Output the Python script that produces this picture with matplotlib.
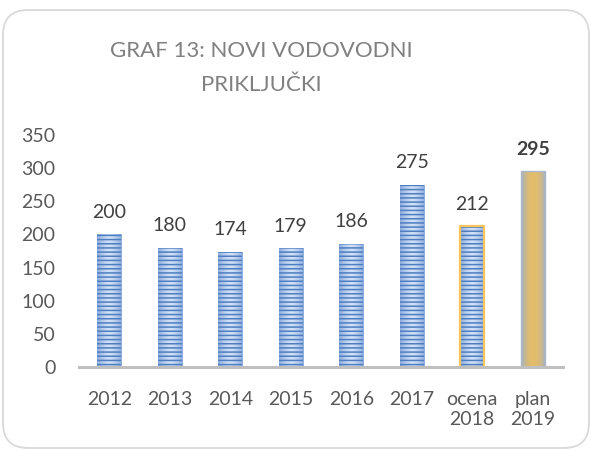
import numpy as np
import matplotlib
matplotlib.use("Agg")
import matplotlib.pyplot as plt
from matplotlib.patches import FancyBboxPatch

categories = ["2012", "2013", "2014", "2015", "2016", "2017", "ocena\n2018", "plan\n2019"]
values = [200, 180, 174, 179, 186, 275, 212, 295]
y_ticks = [0, 50, 100, 150, 200, 250, 300, 350]
title = "GRAF 13: NOVI VODOVODNI\nPRIKLJUČKI"

plt.rcParams['font.family'] = ['Lato', 'DejaVu Sans']
plt.rcParams['hatch.linewidth'] = 1.1

fig = plt.figure(figsize=(5.91, 4.5), dpi=100)
fig.patch.set_facecolor('white')

# rounded border
box = FancyBboxPatch((0.03, 0.02), 5.86, 4.38,
                     boxstyle="round,pad=0,rounding_size=0.25",
                     transform=fig.dpi_scale_trans, facecolor='none',
                     edgecolor='#d9d9d9', linewidth=1.3, zorder=-1)
fig.patches.append(box)

ax = fig.add_axes([0.1337, 0.1844, 0.8189, 0.5156])
ax.set_facecolor('none')
x = np.arange(len(categories))
bw = 0.4

bars = ax.bar(x, values, width=bw, facecolor='none', edgecolor='none', zorder=2)

# horizontal colour gradients for the bar fills (edge -> centre -> edge)
t = np.abs(np.linspace(-1, 1, 41))[:, None]
blue_edge, blue_mid = np.array([0.55, 0.68, 0.87]), np.array([0.82, 0.88, 0.97])
gold_edge, gold_mid = np.array([0.63, 0.69, 0.77]), np.array([0.89, 0.74, 0.42])
blue_grad = blue_mid + (blue_edge - blue_mid) * t ** 1.5
gold_grad = gold_mid + (gold_edge - gold_mid) * t ** 2.2

n = len(values)
for i, b in enumerate(bars):
    bx, by, w, h = b.get_x(), b.get_y(), b.get_width(), b.get_height()
    grad = blue_grad if i < n - 1 else gold_grad
    img = ax.imshow(grad[np.newaxis, :, :], extent=(bx, bx + w, by, by + h),
                    aspect='auto', interpolation='bilinear', zorder=2)
    img.set_clip_path(b)
    if i < n - 1:
        ax.bar(x[i], values[i], width=bw, facecolor='none', edgecolor='#4f7fc0',
               hatch='----', linewidth=0, zorder=3)
        if i == n - 2:
            ax.bar(x[i], values[i], width=bw, facecolor='none', edgecolor='#f7c559',
                   linewidth=1.6, zorder=4)
    else:
        ax.bar(x[i], values[i], width=bw, facecolor='none', edgecolor='#a9b8cc',
               linewidth=1.0, zorder=4)

for i, v in enumerate(values):
    ax.annotate(str(v), (x[i], v), xytext=(0, 12), textcoords='offset points',
                ha='center', va='baseline', fontsize=14, color='#404040',
                fontweight='bold' if i == n - 1 else 'normal')

ax.set_xlim(-0.5, n - 0.5)
ax.set_ylim(0, 350)
ax.set_yticks(y_ticks)
ax.set_yticklabels([str(t) for t in y_ticks])
ax.set_xticks(x)
ax.set_xticklabels(categories, va='top', linespacing=1.25)
ax.tick_params(axis='both', length=0, labelsize=14, labelcolor='#595959')
ax.tick_params(axis='x', pad=17)
ax.tick_params(axis='y', pad=17)
for s in ['top', 'right', 'left']:
    ax.spines[s].set_visible(False)
ax.spines['bottom'].set_color('#bfbfbf')
ax.spines['bottom'].set_linewidth(2.2)
ax.spines['bottom'].set_zorder(5)

fig.text(0.4416, 0.849, title, ha='center', va='center', multialignment='center',
         fontsize=16, color='#808080', linespacing=1.85)

fig.savefig('out.png', dpi=100)
